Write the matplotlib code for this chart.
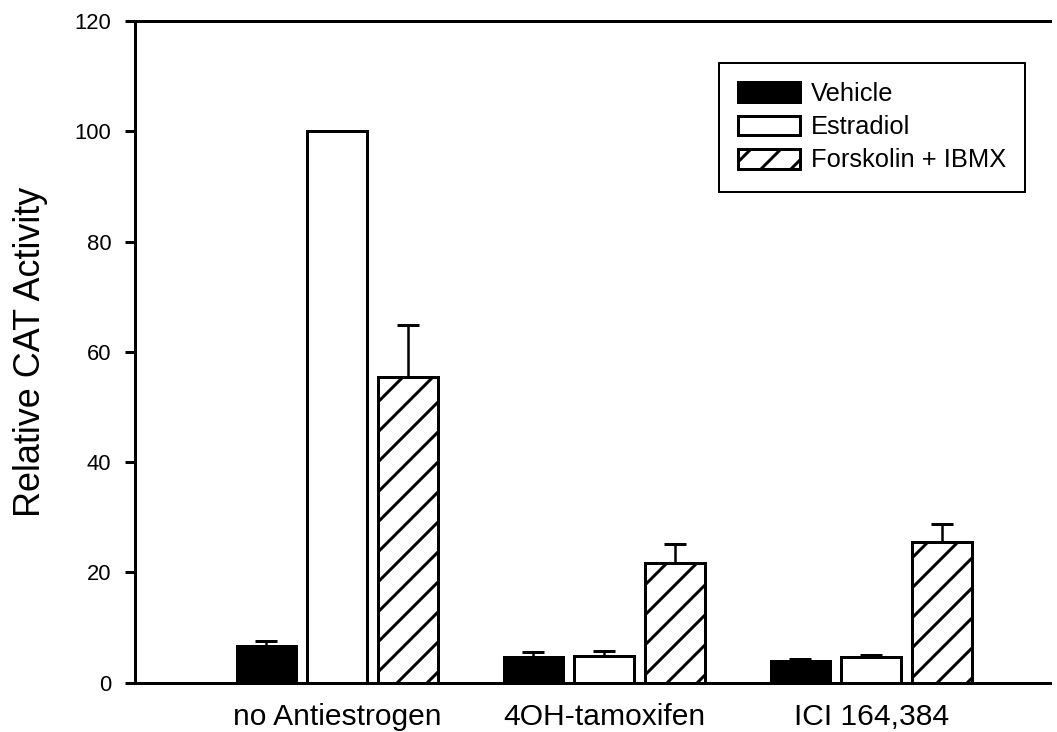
import numpy as np
import matplotlib
matplotlib.use("Agg")
import matplotlib.pyplot as plt

plt.rcParams['font.family'] = ['Liberation Sans', 'DejaVu Sans']
plt.rcParams['hatch.linewidth'] = 1.2

groups = ["no Antiestrogen", "4OH-tamoxifen", "ICI 164,384"]
treatments = ["Vehicle", "Estradiol", "Forskolin + IBMX"]

vehicle = [6.6, 4.7, 3.9]
vehicle_err = [0.9, 0.9, 0.4]
estradiol = [100.0, 4.85, 4.7]
estradiol_err = [0.0, 0.9, 0.35]
forskolin = [55.5, 21.7, 25.6]
forskolin_err = [9.4, 3.5, 3.2]

values = [vehicle, estradiol, forskolin]
errors = [vehicle_err, estradiol_err, forskolin_err]
faces = ["black", "white", "white"]
hatches = [None, None, "//"]

fig = plt.figure(figsize=(1057 / 180, 732 / 180), dpi=180)
ax = fig.add_axes([0.1277, 0.0673, 0.8657, 0.904])

x = np.arange(len(groups))
step = 0.265
width = 0.222

for i, name in enumerate(treatments):
    pos = x + (i - 1) * step
    err = np.array(errors[i])
    # upper error bars only
    ax.errorbar(pos, values[i], yerr=[np.zeros_like(err), err], fmt='none',
                ecolor='black', elinewidth=1.0, capsize=4.4, capthick=1.2, zorder=1)
    ax.bar(pos, values[i], width, color=faces[i], edgecolor='black',
           linewidth=1.2, hatch=hatches[i], label=name, zorder=2)

ax.set_xlim(-0.757, 2.67)
ax.set_ylim(0, 120)
ax.set_yticks(np.arange(0, 121, 20))
ax.set_xticks(x)
ax.set_xticklabels(groups, fontsize=12)
ax.tick_params(axis='x', length=0, pad=8)
ax.tick_params(axis='y', direction='out', length=4, width=1.2, pad=5.5, labelsize=8.8)
ax.set_ylabel("Relative CAT Activity", fontsize=14.4)
ax.yaxis.set_label_coords(-0.095, 0.5)

ax.spines['right'].set_visible(False)
for side in ['left', 'bottom', 'top']:
    ax.spines[side].set_linewidth(1.2)

leg = ax.legend(loc='upper right', bbox_to_anchor=(1025 / 1057, 1 - 63 / 732),
                bbox_transform=fig.transFigure, borderaxespad=0, fontsize=10.2,
                handlelength=2.43, handleheight=0.82, labelspacing=0.36,
                handletextpad=0.4, borderpad=0.75, fancybox=False, framealpha=1)
leg.get_frame().set_edgecolor('black')
leg.get_frame().set_linewidth(0.8)

fig.savefig("out.png", dpi=180)
